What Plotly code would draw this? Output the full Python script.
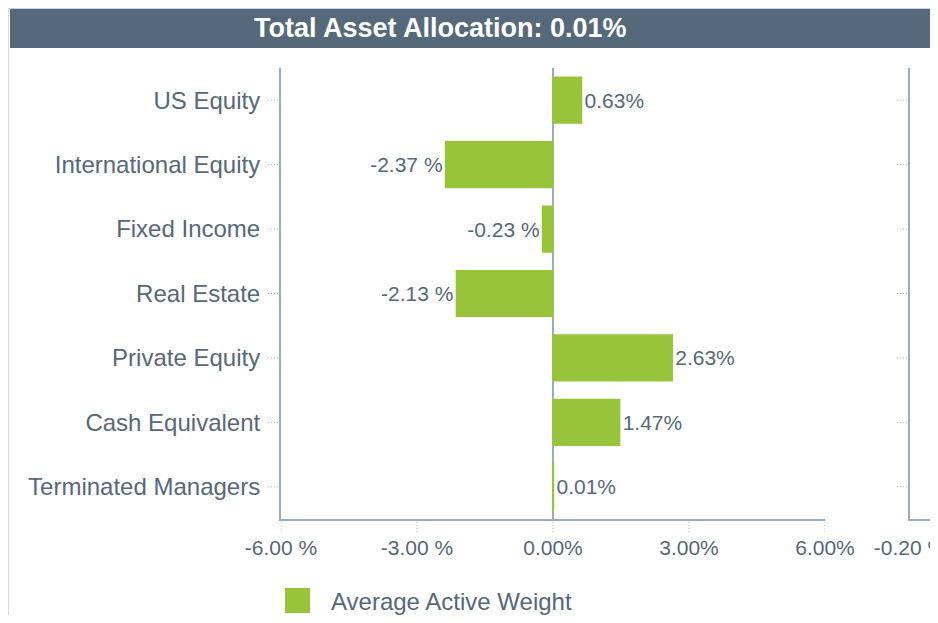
import plotly.graph_objects as go

categories = ["US Equity", "International Equity", "Fixed Income", "Real Estate",
              "Private Equity", "Cash Equivalent", "Terminated Managers"]
active_weight = [0.63, -2.37, -0.23, -2.13, 2.63, 1.47, 0.01]
x_tickvals = [-6, -3, 0, 3, 6]
x_ticktext = ["-6.00 %", "-3.00 %", "0.00%", "3.00%", "6.00%"]
x2_tickvals = [-0.2]
x2_ticktext = ["-0.20 %"]
title_text = "Total Asset Allocation: 0.01%"
legend_name = "Average Active Weight"

W, H = 922, 607
OFF = 8  # page body margin in the viewer
TXT = "#56687a"
AX = "#9eabbb"
GREEN = "#98c43c"
TICKC = "#aab3bd"
FONT = "Liberation Sans, Arial, sans-serif"


def px(x):
    return (x - OFF) / W


def py(y):
    return 1 - (y - OFF) / H


labels = [f"{v:.2f}%" if v >= 0 else f"{v:.2f} %" for v in active_weight]

fig = go.Figure()
fig.add_trace(go.Bar(
    y=categories, x=active_weight, orientation="h",
    marker=dict(color=GREEN, line=dict(width=1.5, color=GREEN)),
    width=0.71,
    text=labels, textposition="outside", constraintext="none",
    textfont=dict(size=21, color=TXT, family=FONT),
    cliponaxis=False, showlegend=False, name=legend_name,
    xaxis="x", yaxis="y",
))
# empty placeholder so the second (cut-off) panel's axes are drawn
fig.add_trace(go.Scatter(x=[None], y=[None], xaxis="x2", yaxis="y2",
                         showlegend=False, hoverinfo="skip"))

DOT = "1px,2px"
shapes = []
# page borders
shapes.append(dict(type="line", xref="paper", yref="paper", x0=px(8.5), x1=px(8.5), y0=0, y1=1,
                   line=dict(color="#d5dbe1", width=1)))
shapes.append(dict(type="line", xref="paper", yref="paper", x0=px(8), x1=1, y0=py(8.5), y1=py(8.5),
                   line=dict(color="#c9d2dc", width=1)))
# title bar
shapes.append(dict(type="rect", xref="paper", yref="paper", x0=px(10), x1=1.0, y0=py(48), y1=py(9),
                   fillcolor="#56697a", line=dict(width=0), layer="below"))
# dotted y ticks
for c in categories:
    shapes.append(dict(type="line", xref="paper", yref="y", x0=px(268), x1=px(279), y0=c, y1=c,
                       line=dict(color=TICKC, width=1, dash=DOT)))
    shapes.append(dict(type="line", xref="paper", yref="y", x0=px(897), x1=px(908), y0=c, y1=c,
                       line=dict(color=TICKC, width=1, dash=DOT)))
# dotted x ticks
for v in x_tickvals:
    shapes.append(dict(type="line", xref="x", yref="paper", x0=v, x1=v, y0=py(522), y1=py(533),
                       line=dict(color=TICKC, width=1, dash=DOT)))
# legend square
shapes.append(dict(type="rect", xref="paper", yref="paper", x0=px(285), x1=px(310), y0=py(613), y1=py(588),
                   fillcolor=GREEN, line=dict(width=0)))

annotations = [
    dict(text=f"<b>{title_text}</b>", xref="paper", yref="paper", x=px(440), y=py(28),
         xanchor="center", yanchor="middle", showarrow=False,
         font=dict(size=27, color="white", family=FONT)),
    dict(text=legend_name, xref="paper", yref="paper", x=px(329), y=py(601),
         xanchor="left", yanchor="middle", showarrow=False,
         font=dict(size=24, color=TXT, family=FONT)),
]

fig.update_layout(
    width=W, height=H,
    margin=dict(l=0, r=0, t=0, b=0, pad=0, autoexpand=False),
    paper_bgcolor="white", plot_bgcolor="white",
    font=dict(family=FONT, color=TXT),
    showlegend=False,
    shapes=shapes,
    annotations=annotations,
    xaxis=dict(domain=[px(281), px(825)], range=[-6, 6], anchor="y", automargin=False,
               tickvals=x_tickvals, ticktext=x_ticktext,
               tickfont=dict(size=21, color=TXT, family=FONT),
               ticks="outside", ticklen=9, tickcolor="rgba(0,0,0,0)",
               showgrid=False, zeroline=True, zerolinecolor=AX, zerolinewidth=2,
               showline=True, linecolor=AX, linewidth=2,
               ticklabeloverflow="allow"),
    yaxis=dict(domain=[py(519), py(68)], anchor="x", type="category", automargin=False,
               categoryorder="array", categoryarray=categories,
               range=[6.5, -0.5],
               tickfont=dict(size=24, color=TXT, family=FONT),
               ticks="outside", ticklen=14, tickcolor="rgba(0,0,0,0)",
               showgrid=False, zeroline=False,
               showline=True, linecolor=AX, linewidth=2),
    xaxis2=dict(domain=[px(910), 1.0], range=[-0.2, -0.1], anchor="y2", automargin=False,
                tickvals=x2_tickvals, ticktext=x2_ticktext,
                tickfont=dict(size=21, color=TXT, family=FONT),
                ticks="outside", ticklen=9, tickcolor="rgba(0,0,0,0)",
                showgrid=False, zeroline=False,
                showline=True, linecolor=AX, linewidth=2,
                ticklabeloverflow="allow"),
    yaxis2=dict(domain=[py(519), py(68)], anchor="x2", range=[6.5, -0.5], automargin=False,
                showticklabels=False, ticks="", showgrid=False, zeroline=False,
                showline=True, linecolor=AX, linewidth=2),
)

fig.write_html("out.html")
